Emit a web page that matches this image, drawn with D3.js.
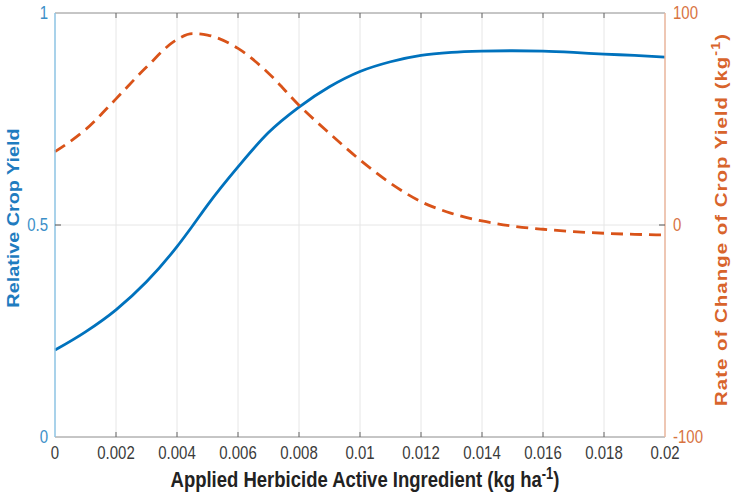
<!DOCTYPE html>
<html>
<head>
<meta charset="utf-8">
<script src="https://cdn.jsdelivr.net/npm/d3@7"></script>
<style>
  body { margin: 0; background: #fff; }
  svg text { font-family: "Liberation Sans", Arial, sans-serif; }
</style>
</head>
<body>
<svg id="chart" width="740" height="492"></svg>
<script>
// x values (kg ha^-1)
var doses = [0, 0.001, 0.002, 0.003, 0.004, 0.0045, 0.005, 0.006, 0.007, 0.008, 0.009,
             0.01, 0.011, 0.012, 0.013, 0.014, 0.015, 0.016, 0.017, 0.018, 0.019, 0.02];
// relative crop yield (left axis)
var yieldVals = [0.205, 0.248, 0.300, 0.366, 0.449, 0.497, 0.547, 0.637, 0.718, 0.778, 0.826,
                 0.862, 0.885, 0.900, 0.907, 0.910, 0.911, 0.910, 0.907, 0.903, 0.900, 0.896];
// rate of change (right axis)
var rateVals = [34.6, 45, 59.5, 74.5, 87.5, 90.3, 89.6, 83.3, 71.6, 56.5, 43.2,
                30.7, 19.7, 11, 5.5, 1.9, -0.5, -2.0, -3.1, -3.9, -4.4, -4.7];

var xTicks = [0, 0.002, 0.004, 0.006, 0.008, 0.01, 0.012, 0.014, 0.016, 0.018, 0.02];
var leftTicks = [0, 0.5, 1];
var rightTicks = [-100, 0, 100];

var blue = "#0072BD", orange = "#D95319";
var svg = d3.select("#chart");
var L = 55, R = 665, T = 13, B = 437;
var SY = 1.2; // the figure is stretched a bit vertically

var x = d3.scaleLinear().domain([0, 0.02]).range([L, R]);
var yL = d3.scaleLinear().domain([0, 1]).range([B, T]);
var yR = d3.scaleLinear().domain([-100, 100]).range([B, T]);

// text helper, stretched vertically like the source image
function label(px, py, rot) {
  return svg.append("g")
    .attr("transform", "translate(" + px + "," + py + ") scale(1," + SY + ")" + (rot ? " rotate(-90)" : ""))
    .append("text");
}

// grid
svg.append("g").selectAll("line").data(xTicks.slice(1, -1)).join("line")
  .attr("x1", d => x(d)).attr("x2", d => x(d)).attr("y1", T).attr("y2", B)
  .attr("stroke", "#e6e6e6").attr("stroke-width", 1);
svg.append("line").attr("x1", L).attr("x2", R).attr("y1", yL(0.5)).attr("y2", yL(0.5))
  .attr("stroke", "#e6e6e6");

// curves
var lineL = d3.line().x((d, i) => x(doses[i])).y(d => yL(d)).curve(d3.curveMonotoneX);
var lineR = d3.line().x((d, i) => x(doses[i])).y(d => yR(d)).curve(d3.curveMonotoneX);
svg.append("path").attr("d", lineL(yieldVals)).attr("fill", "none")
  .attr("stroke", blue).attr("stroke-width", 2.8);
svg.append("path").attr("d", lineR(rateVals)).attr("fill", "none")
  .attr("stroke", orange).attr("stroke-width", 2.8).attr("stroke-dasharray", "12,7");

// top & bottom axes
svg.append("line").attr("x1", L).attr("x2", R).attr("y1", T).attr("y2", T).attr("stroke", "#8c8c8c");
svg.append("line").attr("x1", L).attr("x2", R).attr("y1", B).attr("y2", B).attr("stroke", "#8c8c8c");
var tk = svg.append("g");
tk.selectAll(".tb").data(xTicks.slice(1, -1)).join("line").attr("class", "tb")
  .attr("x1", d => x(d)).attr("x2", d => x(d)).attr("y1", B).attr("y2", B - 5).attr("stroke", "#666");
tk.selectAll(".tt").data(xTicks.slice(1, -1)).join("line").attr("class", "tt")
  .attr("x1", d => x(d)).attr("x2", d => x(d)).attr("y1", T).attr("y2", T + 5).attr("stroke", "#666");
xTicks.forEach(function(d) {
  label(x(d), 459).attr("text-anchor", "middle").attr("font-size", 15)
    .attr("fill", "#3a3a3a").text(d);
});

// left axis
svg.append("line").attr("x1", L).attr("x2", L).attr("y1", T).attr("y2", B)
  .attr("stroke", "#8cc3e3").attr("stroke-width", 1.5);
svg.append("line").attr("x1", L).attr("x2", L + 6).attr("y1", yL(0.5)).attr("y2", yL(0.5)).attr("stroke", "#555");
leftTicks.forEach(function(d) {
  label(L - 7, yL(d) + 6).attr("text-anchor", "end").attr("font-size", 15)
    .attr("fill", "#3c8fc8").text(d);
});
label(19, 218, true).attr("text-anchor", "middle").attr("font-size", 16.5)
  .attr("font-weight", "bold").attr("fill", "#1f7cc0").text("Relative Crop Yield");

// right axis
svg.append("line").attr("x1", R).attr("x2", R).attr("y1", T).attr("y2", B)
  .attr("stroke", "#e8b49b").attr("stroke-width", 1.5);
svg.append("line").attr("x1", R).attr("x2", R - 6).attr("y1", yR(0)).attr("y2", yR(0)).attr("stroke", "#555");
rightTicks.forEach(function(d) {
  label(R + 8, yR(d) + 6).attr("text-anchor", "start").attr("font-size", 15)
    .attr("fill", "#d8733f").text(d);
});
var rl = label(727, 220, true).attr("text-anchor", "middle").attr("font-size", 17)
  .attr("font-weight", "bold").attr("fill", "#d8642c")
  .attr("textLength", 310).attr("lengthAdjust", "spacing");
rl.append("tspan").text("Rate of Change of Crop Yield (kg");
rl.append("tspan").attr("dy", -7).attr("font-size", 12).text("-1");
rl.append("tspan").attr("dy", 7).text(")");

// x label
var xl = label(365, 487).attr("text-anchor", "middle").attr("font-size", 18.5)
  .attr("font-weight", "bold").attr("fill", "#222");
xl.append("tspan").text("Applied Herbicide Active Ingredient (kg ha");
xl.append("tspan").attr("dy", -7).attr("font-size", 13).text("-1");
xl.append("tspan").attr("dy", 7).text(")");
</script>
</body>
</html>
